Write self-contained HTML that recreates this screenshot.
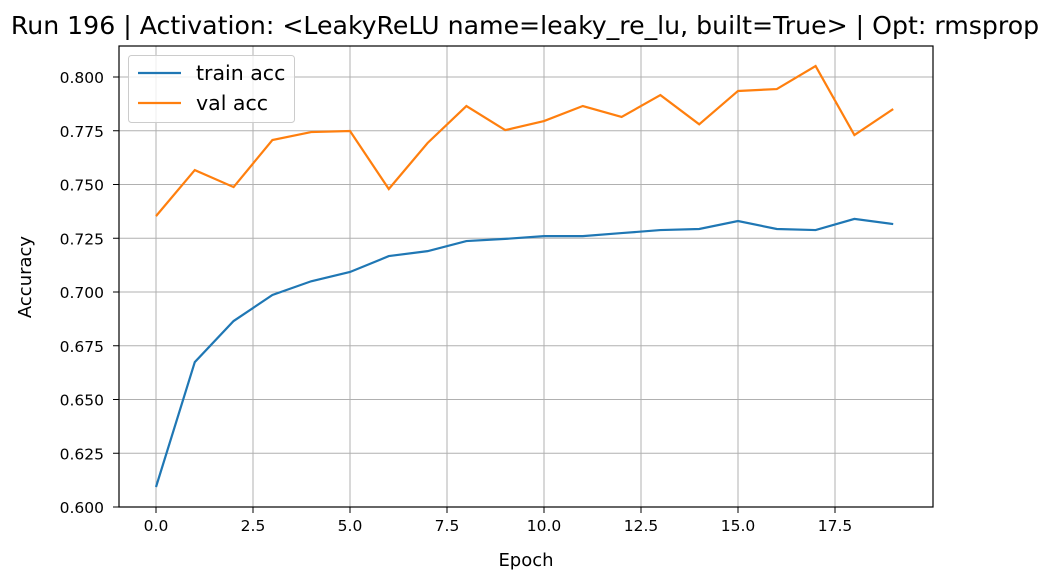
<!DOCTYPE html>
<html><head><meta charset="utf-8"><style>body{margin:0;background:#fff}svg{display:block;font-family:"DejaVu Sans","Liberation Sans",sans-serif}</style></head>
<body>
<svg width="1051" height="586" id="c">
<rect width="1051" height="586" fill="#fff"/>
</svg>
<script>
const epochs=[0,1,2,3,4,5,6,7,8,9,10,11,12,13,14,15,16,17,18,19];
const trainAcc=[0.6093,0.6674,0.6865,0.6986,0.705,0.7093,0.7167,0.719,0.7237,0.7247,0.726,0.726,0.7274,0.7288,0.7293,0.733,0.7293,0.7288,0.734,0.7316];
const valAcc=[0.7353,0.7567,0.7488,0.7707,0.7744,0.7749,0.7479,0.7693,0.7865,0.7753,0.7795,0.7865,0.7814,0.7916,0.778,0.7935,0.7944,0.8051,0.773,0.7851];
const xTicks=[0,2.5,5,7.5,10,12.5,15,17.5];
const yTicks=[0.6,0.625,0.65,0.675,0.7,0.725,0.75,0.775,0.8];
const L=119,R=933,T=46,B=507;
const X=v=>156+38.8*v;
const Y=v=>507-(v-0.6)*2150;
const s=document.getElementById('c');const NS='http://www.w3.org/2000/svg';
function mk(t,a,p){const e=document.createElementNS(NS,t);for(const k in a)e.setAttribute(k,a[k]);(p||s).appendChild(e);return e;}
xTicks.forEach(v=>{const g=mk('line',{x1:X(v),x2:X(v),y1:T,y2:B,stroke:'#b0b0b0','stroke-width':1});

mk('line',{x1:X(v),x2:X(v),y1:B,y2:B+6,stroke:'#000'});
const t=mk('text',{x:X(v),y:B+24,'text-anchor':'middle','font-size':15.5});t.textContent=v.toFixed(1);
});
yTicks.forEach(v=>{const g=mk('line',{x1:L,x2:R,y1:Y(v),y2:Y(v),stroke:'#b0b0b0','stroke-width':1});

mk('line',{x1:L-6,x2:L,y1:Y(v),y2:Y(v),stroke:'#000'});
const t=mk('text',{x:L-15,y:Y(v)+6,'text-anchor':'end','font-size':15.5});t.textContent=v.toFixed(3);
});
function line(d,c,n){const p=mk('polyline',{points:d.map((v,i)=>X(epochs[i])+','+Y(v)).join(' '),fill:'none',stroke:c,'stroke-width':2.2});
}
line(trainAcc,'#1f77b4','train-acc-line');line(valAcc,'#ff7f0e','val-acc-line');
const f=mk('rect',{x:L,y:T,width:R-L,height:B-T,fill:'none',stroke:'#000','stroke-width':1.2});

const lg=mk('g',{});
mk('rect',{x:128.5,y:55.5,width:166,height:67,rx:3,fill:'#fff','fill-opacity':0.8,stroke:'#ccc'},lg);
mk('line',{x1:138,x2:181,y1:73,y2:73,stroke:'#1f77b4','stroke-width':2.2},lg);
mk('line',{x1:138,x2:181,y1:103,y2:103,stroke:'#ff7f0e','stroke-width':2.2},lg);
let t=mk('text',{x:196,y:80,'font-size':20.5},lg);t.textContent='train acc';
t=mk('text',{x:196,y:110,'font-size':20.5},lg);t.textContent='val acc';
t=mk('text',{x:525,y:34,'text-anchor':'middle','font-size':25.2});t.textContent='Run 196 | Activation: <LeakyReLU name=leaky_re_lu, built=True> | Opt: rmsprop';

t=mk('text',{x:526,y:566,'text-anchor':'middle','font-size':18});t.textContent='Epoch';

t=mk('text',{x:31,y:277,'text-anchor':'middle','font-size':18,transform:'rotate(-90 31 277)'});t.textContent='Accuracy';

</script>
</body></html>
